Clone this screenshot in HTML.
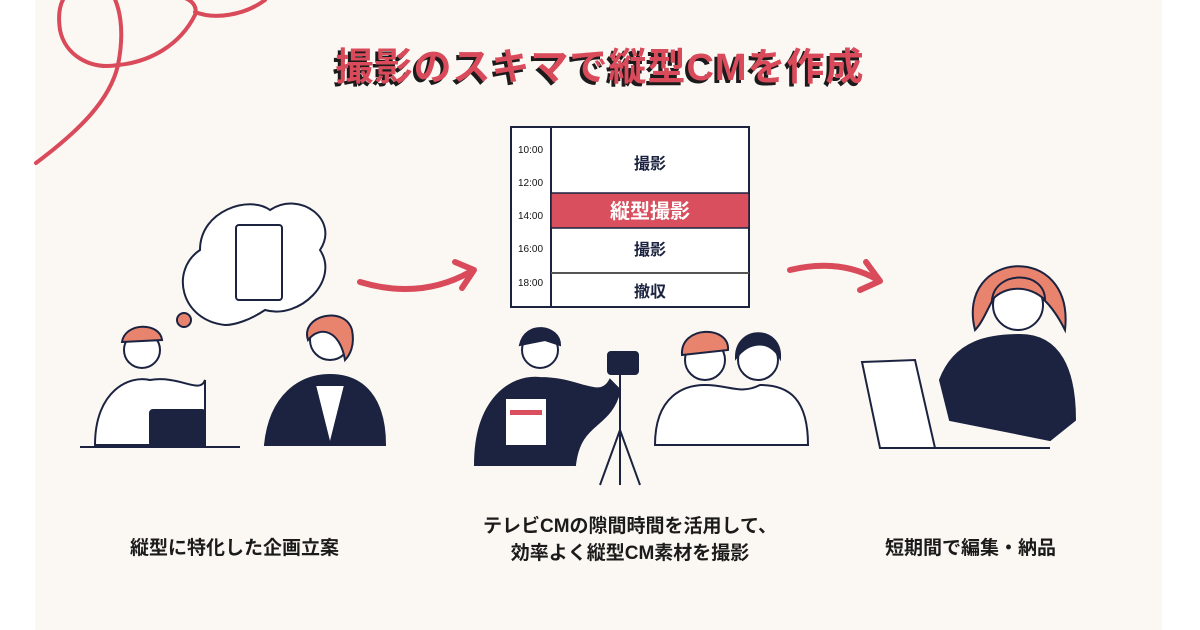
<!DOCTYPE html>
<html><head><meta charset="utf-8"><style>
body{margin:0;width:1200px;height:630px;background:#fff;position:relative;overflow:hidden;font-family:"Liberation Sans","Noto Sans CJK JP",sans-serif}
.bg{position:absolute;left:35px;top:0;width:1127px;height:630px;background:#fbf7f2}
.t{position:absolute;white-space:nowrap;color:#1b1b1b;font-weight:bold}
</style></head><body>
<div class="bg"></div>
<svg width="1200" height="630" style="position:absolute;left:0;top:0">
<g fill="none" stroke="#d94a5a" stroke-width="4" stroke-linecap="round">
<path d="M36 163 C80 130 110 100 118 65 C125 30 120 5 110 -10"/>
<path d="M118 65 C90 70 65 55 60 30 C57 10 62 0 66 -5"/>
<path d="M118 65 C150 62 180 45 195 15 C198 5 190 0 185 -2 M195 12 C215 20 245 15 265 0"/>
<path d="M360 282 Q420 300 470 272" stroke-width="6"/>
<path d="M455 262 L474 270 L462 288" stroke-width="6" stroke-linejoin="round"/>
<path d="M790 270 Q840 258 878 280" stroke-width="6"/>
<path d="M866 262 L880 281 L860 290" stroke-width="6" stroke-linejoin="round"/>
</g>
<rect x="511" y="127" width="238" height="180" fill="#fff" stroke="#1b2340" stroke-width="2"/>
<line x1="551" y1="127" x2="551" y2="307" stroke="#1b2340" stroke-width="2"/>
<rect x="551" y="193" width="198" height="35" fill="#d94f5e" stroke="#1b2340" stroke-width="1.5"/>
<line x1="551" y1="273" x2="749" y2="273" stroke="#555" stroke-width="2"/>
<g font-size="10" fill="#111" font-family="Liberation Sans,sans-serif">
<text x="518" y="153">10:00</text><text x="518" y="186">12:00</text><text x="518" y="219">14:00</text><text x="518" y="252">16:00</text><text x="518" y="286">18:00</text></g>
<g font-family="Liberation Sans,Noto Sans CJK JP,sans-serif" font-weight="bold" text-anchor="middle" fill="#1b2340">
<text x="650" y="169" font-size="16">撮影</text>
<text x="650" y="218" font-size="20" fill="#fff">縦型撮影</text>
<text x="650" y="255" font-size="16">撮影</text>
<text x="650" y="297" font-size="16">撤収</text></g>
<g stroke="#1b2340" stroke-width="2" fill="none">
<path d="M225 325 C180 320 170 270 200 250 C200 210 250 195 270 210 C300 190 340 220 320 250 C340 280 300 320 265 310 C250 320 235 325 225 325Z" fill="#fff"/>
<rect x="236" y="225" width="46" height="75" rx="3" fill="#fff"/>
<circle cx="142" cy="350" r="18" fill="#fff"/><path d="M122 342 C125 322 160 322 162 340Z" fill="#e8846e"/>
<path d="M95 445 C95 390 130 375 150 380 C180 375 200 395 205 380 L205 445Z" fill="#fff"/>
<rect x="150" y="410" width="55" height="36" rx="3" fill="#1b2340"/>
<line x1="80" y1="447" x2="240" y2="447"/>
<circle cx="330" cy="340" r="20" fill="#fff"/><path d="M308 340 C300 315 345 305 352 330 C355 345 350 355 345 360 C340 330 320 325 308 340Z" fill="#e8846e"/>
<path d="M265 445 C270 395 300 375 330 375 C365 375 385 400 385 445Z" fill="#1b2340"/>
<path d="M315 385 L330 445 L345 385Z" fill="#fff"/>
<circle cx="184" cy="320" r="7" fill="#e8846e"/>
</g>
<g stroke="#1b2340" stroke-width="2">
<circle cx="540" cy="350" r="18" fill="#fff"/><path d="M520 345 C525 320 560 325 560 345 L545 340Z" fill="#1b2340"/>
<path d="M475 465 C475 400 510 375 540 378 C580 378 600 400 610 380 L620 390 C610 430 580 420 575 465Z" fill="#1b2340"/>
<rect x="505" y="398" width="42" height="48" fill="#fff"/><rect x="510" y="410" width="32" height="5" fill="#d94f5e" stroke="none"/>
<rect x="608" y="352" width="30" height="22" rx="3" fill="#1b2340"/>
<path d="M620 375 L620 430 M620 430 L600 485 M620 430 L640 485 M620 430 L620 485" fill="none"/>
<circle cx="705" cy="360" r="20" fill="#fff"/><path d="M682 355 C680 325 730 325 728 350 Z" fill="#e8846e"/>
<circle cx="758" cy="360" r="20" fill="#fff"/><path d="M736 358 C735 325 782 325 780 358 C770 340 750 340 736 358Z" fill="#1b2340"/>
<path d="M655 445 C655 395 685 385 705 385 C730 385 740 395 760 385 C790 385 808 400 808 445Z" fill="#fff"/>
</g>
<g stroke="#1b2340" stroke-width="2">
<path d="M975 330 C955 250 1075 240 1065 330 C1050 300 1030 280 1000 290 C990 300 985 320 975 330Z" fill="#e8846e"/>
<circle cx="1018" cy="305" r="25" fill="#fff"/><path d="M992 300 C995 270 1045 270 1045 300 C1030 285 1005 285 992 300Z" fill="#e8846e"/>
<path d="M940 380 C955 340 990 335 1020 335 C1060 335 1075 370 1075 420 L1050 440 L950 420Z" fill="#1b2340"/>
<path d="M862 362 L915 360 L935 448 L880 448Z" fill="#fff"/>
<line x1="880" y1="448" x2="1050" y2="448"/>
</g>
</svg>
<div class="t" style="left:0;width:1200px;top:36px;text-align:center;font-size:38px;font-weight:bold;color:#d94a5a;text-shadow:-3px 3px 0 #1b1b1b;letter-spacing:1px">撮影のスキマで縦型CMを作成</div>
<div class="t" style="left:130px;top:533px;font-size:19px">縦型に特化した企画立案</div>
<div class="t" style="left:450px;top:513px;width:360px;text-align:center;font-size:19px;line-height:27px">テレビCMの隙間時間を活用して、<br>効率よく縦型CM素材を撮影</div>
<div class="t" style="left:885px;top:533px;font-size:19px">短期間で編集・納品</div>
</body></html>
